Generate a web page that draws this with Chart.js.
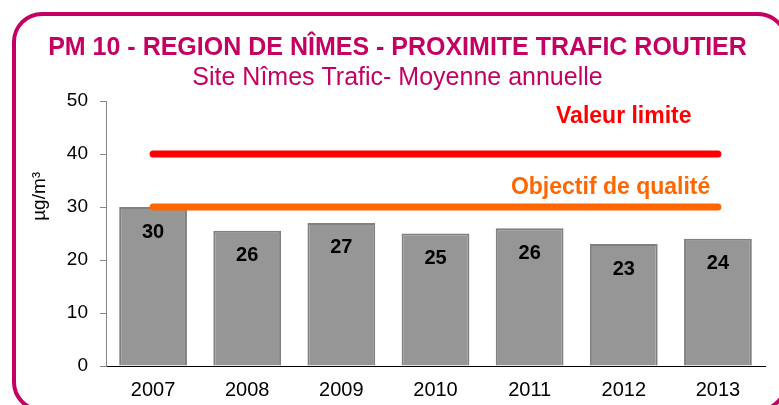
<!DOCTYPE html>
<html>
<head>
<meta charset="utf-8">
<script src="https://cdn.jsdelivr.net/npm/chart.js@4"></script>
<style>
  body { margin: 0; background: #fff; }
  #wrap { position: relative; width: 779px; height: 405px; overflow: hidden; }
  #frame {
    position: absolute; left: 12px; top: 12px; width: 776px; height: 400px;
    box-sizing: border-box; border: 4px solid #c40062; border-radius: 30px;
  }
  #box { position: absolute; left: 0; top: 0; width: 779px; height: 405px; }
</style>
</head>
<body>
<div id="wrap">
  <div id="frame"></div>
  <div id="box"><canvas id="pm10Chart"></canvas></div>
</div>
<script>
const years = ["2007", "2008", "2009", "2010", "2011", "2012", "2013"];
const moyenneAnnuelle = [30, 25.5, 27, 25, 26, 23, 24];
const valeurLimite = [40, 40, 40, 40, 40, 40, 40];
const objectifQualite = [30, 30, 30, 30, 30, 30, 30];

const FONT = "'Liberation Sans', Arial, sans-serif";
const MAGENTA = "#c40062";

// etiquettes des valeurs dans les barres
const barLabels = {
  id: "barLabels",
  afterDatasetsDraw(chart) {
    const ctx = chart.ctx;
    const meta = chart.getDatasetMeta(2);
    ctx.save();
    ctx.font = "bold 20px " + FONT;
    ctx.fillStyle = "#000";
    ctx.textAlign = "center";
    ctx.textBaseline = "middle";
    meta.data.forEach((bar, i) => {
      ctx.fillText(Math.round(moyenneAnnuelle[i]), bar.x, bar.y + 25);
    });
    ctx.restore();
  },
};

// textes au-dessus des seuils + titre de l'axe y
const seuilLabels = {
  id: "seuilLabels",
  afterDatasetsDraw(chart) {
    const ctx = chart.ctx;
    const x = chart.scales.x;
    const y = chart.scales.y;
    const items = [
      { text: "Valeur limite", color: "#ff0000", at: 5, value: valeurLimite[0], dy: -37 },
      { text: "Objectif de qualité", color: "#ff6600", at: 4.86, value: objectifQualite[0], dy: -19 },
    ];
    ctx.save();
    ctx.font = "bold 23px " + FONT;
    ctx.textAlign = "center";
    ctx.textBaseline = "middle";
    items.forEach((it) => {
      ctx.fillStyle = it.color;
      ctx.fillText(it.text, x.getPixelForValue(it.at), y.getPixelForValue(it.value) + it.dy);
    });

    // unité, un peu au-dessus du milieu comme dans l'original
    ctx.translate(y.left + 10, y.getPixelForValue(32));
    ctx.rotate(-Math.PI / 2);
    ctx.font = "19px " + FONT;
    ctx.fillStyle = "#000";
    ctx.fillText("µg/m³", 0, 0);
    ctx.restore();
  },
};

const ctx = document.getElementById("pm10Chart").getContext("2d");
new Chart(ctx, {
  data: {
    labels: years,
    datasets: [
      {
        type: "line",
        label: "Valeur limite",
        data: valeurLimite,
        borderColor: "#ff0000",
        borderWidth: 7,
        borderCapStyle: "round",
        pointRadius: 0,
        order: 0,
      },
      {
        type: "line",
        label: "Objectif de qualité",
        data: objectifQualite,
        borderColor: "#ff6600",
        borderWidth: 7,
        borderCapStyle: "round",
        pointRadius: 0,
        order: 0,
      },
      {
        type: "bar",
        label: "Moyenne annuelle",
        data: moyenneAnnuelle,
        backgroundColor: "#969696",
        borderColor: "#808080",
        borderWidth: 2,
        barPercentage: 0.72,
        categoryPercentage: 1,
        order: 1,
      },
    ],
  },
  options: {
    responsive: true,
    maintainAspectRatio: false,
    animation: false,
    layout: { padding: { left: 30, right: 14, top: 0, bottom: 0 } },
    plugins: {
      legend: { display: false },
      tooltip: { enabled: false },
      title: {
        display: true,
        text: "PM 10 - REGION DE NÎMES - PROXIMITE TRAFIC ROUTIER",
        color: MAGENTA,
        font: { family: FONT, size: 25, weight: "bold", lineHeight: 1.2 },
        padding: { top: 33, bottom: 0 },
      },
      subtitle: {
        display: true,
        text: "Site Nîmes Trafic- Moyenne annuelle",
        color: MAGENTA,
        font: { family: FONT, size: 25, weight: "normal", lineHeight: 1.2 },
        padding: { top: 0, bottom: 8 },
      },
    },
    scales: {
      x: {
        grid: { display: false, drawTicks: false },
        border: { color: "#000", width: 1 },
        ticks: { color: "#000", padding: 12, font: { family: FONT, size: 20 } },
        afterFit(scale) { scale.height = 39; },
      },
      y: {
        min: 0,
        max: 50,
        ticks: { stepSize: 10, color: "#000", padding: 12, font: { family: FONT, size: 19 } },
        grid: { drawOnChartArea: false, drawTicks: true, tickLength: 6, color: "#868686" },
        border: { color: "#868686", width: 1 },
        afterFit(scale) { scale.width = 76; },
      },
    },
  },
  plugins: [barLabels, seuilLabels],
});
</script>
</body>
</html>
